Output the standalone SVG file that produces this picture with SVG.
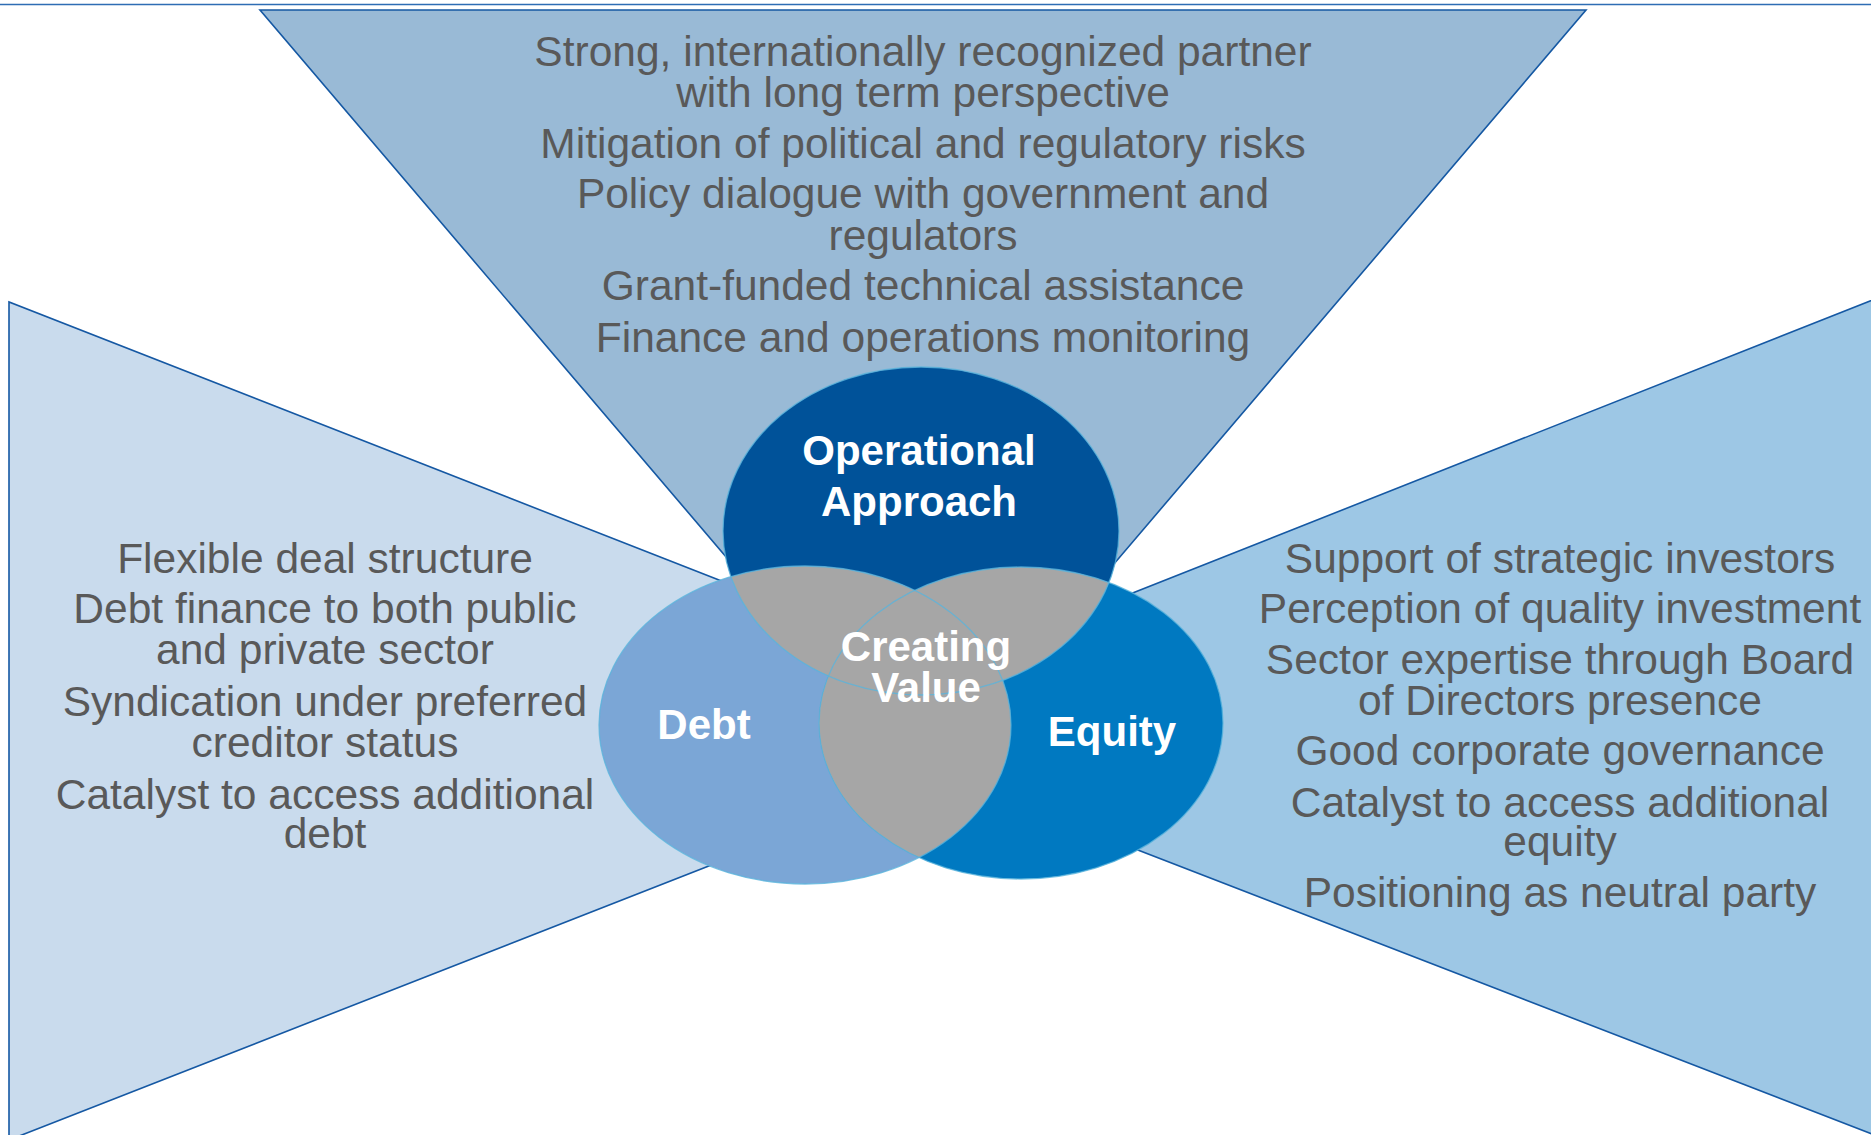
<svg xmlns="http://www.w3.org/2000/svg" width="1871" height="1135" viewBox="0 0 1871 1135">
<style>
.tri{stroke:#1558a3;stroke-width:1.6;stroke-linejoin:miter}
.body{font-family:"Liberation Sans",Arial,sans-serif;font-size:42.5px;fill:#595959;text-anchor:middle}
.lbl{font-family:"Liberation Sans",Arial,sans-serif;font-size:42px;font-weight:bold;fill:#ffffff;text-anchor:middle}
.gray{fill:#a6a6a6}
.outline{fill:none;stroke:#5ab4dc;stroke-width:1.3;stroke-opacity:0.8}
</style>
<defs>
<clipPath id="cTop"><ellipse cx="921" cy="531" rx="198" ry="164"/></clipPath>
<clipPath id="cDebt"><ellipse cx="805" cy="725" rx="206" ry="159"/></clipPath>
</defs>
<rect x="0" y="0" width="1871" height="1135" fill="#ffffff"/>
<line x1="0" y1="4.5" x2="1871" y2="4.5" stroke="#2e6db4" stroke-width="1.5"/>

<g id="panel-debt">
<polygon class="tri" points="9,302 9,1140 1079,721" fill="#c9dbed"/>
<text class="body" x="325" y="573">Flexible deal structure</text>
<text class="body" x="325" y="623">Debt finance to both public</text>
<text class="body" x="325" y="664">and private sector</text>
<text class="body" x="325" y="716">Syndication under preferred</text>
<text class="body" x="325" y="757">creditor status</text>
<text class="body" x="325" y="809">Catalyst to access additional</text>
<text class="body" x="325" y="848">debt</text>
</g>

<g id="panel-equity">
<polygon class="tri" points="1885,295 1885,1139 807,722" fill="#9dc7e5"/>
<text class="body" x="1560" y="573">Support of strategic investors</text>
<text class="body" x="1560" y="623">Perception of quality investment</text>
<text class="body" x="1560" y="674">Sector expertise through Board</text>
<text class="body" x="1560" y="715">of Directors presence</text>
<text class="body" x="1560" y="765">Good corporate governance</text>
<text class="body" x="1560" y="817">Catalyst to access additional</text>
<text class="body" x="1560" y="856">equity</text>
<text class="body" x="1560" y="907">Positioning as neutral party</text>
</g>

<g id="panel-operational">
<polygon class="tri" points="260,10 1586,10 923,788" fill="#99bad6"/>
<text class="body" x="923" y="66">Strong, internationally recognized partner</text>
<text class="body" x="923" y="107">with long term perspective</text>
<text class="body" x="923" y="158">Mitigation of political and regulatory risks</text>
<text class="body" x="923" y="208">Policy dialogue with government and</text>
<text class="body" x="923" y="250">regulators</text>
<text class="body" x="923" y="300">Grant-funded technical assistance</text>
<text class="body" x="923" y="352">Finance and operations monitoring</text>
</g>

<g id="circle-operational">
<ellipse cx="921" cy="531" rx="198" ry="164" fill="#005299"/>
</g>
<g id="circle-debt">
<ellipse cx="805" cy="725" rx="206" ry="159" fill="#7ba6d6"/>
</g>
<g id="circle-equity">
<ellipse cx="1021" cy="723" rx="202" ry="156" fill="#0079c1"/>
</g>
<g id="creating-value">
<ellipse class="gray" cx="805" cy="725" rx="206" ry="159" clip-path="url(#cTop)"/>
<ellipse class="gray" cx="1021" cy="723" rx="202" ry="156" clip-path="url(#cTop)"/>
<ellipse class="gray" cx="1021" cy="723" rx="202" ry="156" clip-path="url(#cDebt)"/>
<ellipse class="outline" cx="921" cy="531" rx="198" ry="164"/>
<ellipse class="outline" cx="805" cy="725" rx="206" ry="159"/>
<ellipse class="outline" cx="1021" cy="723" rx="202" ry="156"/>
</g>

<g id="labels">
<text class="lbl" x="919" y="465">Operational</text>
<text class="lbl" x="919" y="516">Approach</text>
<text class="lbl" x="926" y="661">Creating</text>
<text class="lbl" x="926" y="702">Value</text>
<text class="lbl" x="704" y="739">Debt</text>
<text class="lbl" x="1112" y="746">Equity</text>
</g>
<g id="connectors"></g>
</svg>
